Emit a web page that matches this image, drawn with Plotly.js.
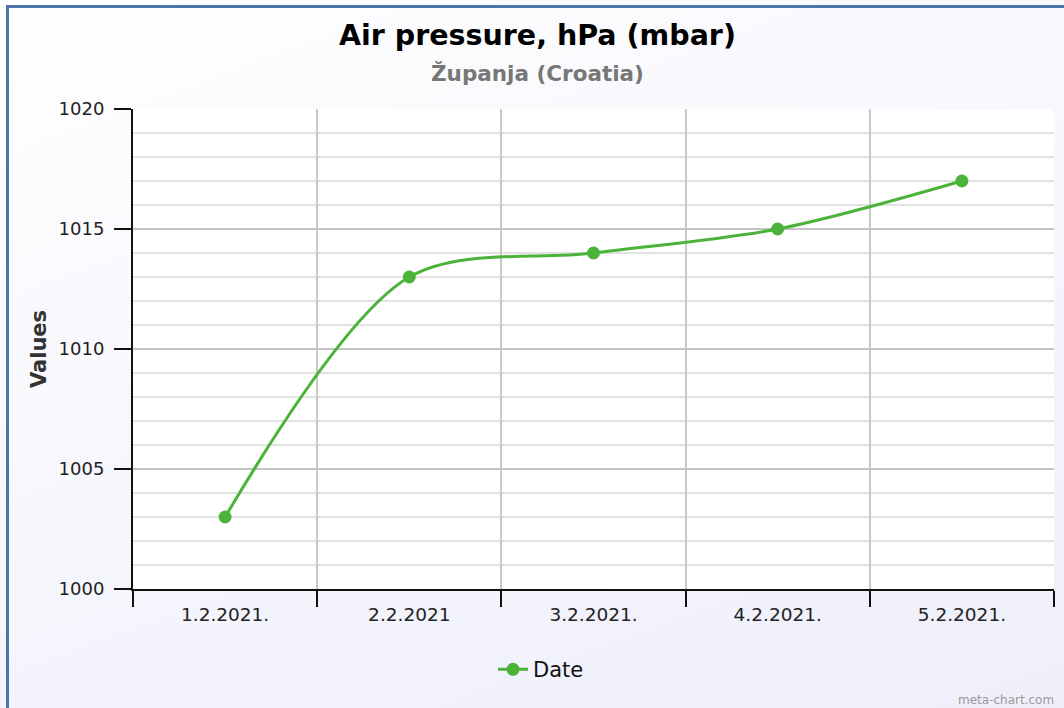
<!DOCTYPE html>
<html>
<head>
<meta charset="utf-8">
<script src="https://cdn.plot.ly/plotly-3.0.1.min.js"></script>
<style>
html,body{margin:0;padding:0;}
body{width:1064px;height:708px;overflow:hidden;background:linear-gradient(160deg,#ffffff 0%,#f6f6fd 50%,#efeffb 100%);position:relative;}
#frame{position:absolute;left:6px;top:5px;width:1100px;height:800px;border-left:3px solid #4a76a8;border-top:3px solid #4a76a8;box-sizing:border-box;pointer-events:none;}
#chart{position:absolute;left:0;top:0;width:1064px;height:708px;}
</style>
</head>
<body>
<div id="frame"></div>
<div id="chart"></div>
<script>
const categories = ["1.2.2021.", "2.2.2021", "3.2.2021.", "4.2.2021.", "5.2.2021."];
const values = [1003, 1013, 1014, 1015, 1017];
const seriesName = "Date";
const titleText = "Air pressure, hPa (mbar)";
const subtitleText = "Županja (Croatia)";
const yTitle = "Values";

const green = "#4cb33a";
const font = "DejaVu Sans, Verdana, sans-serif";

const trace = {
  type: "scatter",
  mode: "lines+markers",
  x: categories,
  y: values,
  name: seriesName,
  line: {color: green, width: 3, shape: "spline", smoothing: 0.9},
  marker: {color: green, size: 13, symbol: "circle"},
  cliponaxis: false
};

const layout = {
  width: 1064, height: 708,
  paper_bgcolor: "rgba(0,0,0,0)",
  plot_bgcolor: "#ffffff",
  margin: {l: 133, r: 10, t: 109, b: 119},
  font: {family: font, color: "#222", size: 18},
  showlegend: true,
  legend: {orientation: "h", x: 0.443, xanchor: "center", y: -0.168, yanchor: "middle",
           font: {size: 21, color: "#111", family: font}, bgcolor: "rgba(0,0,0,0)"},
  xaxis: {
    type: "category",
    range: [-0.5, 4.5],
    tickson: "boundaries",
    ticks: "outside", ticklen: 16, tickwidth: 2, tickcolor: "#111",
    showline: true, linecolor: "#111", linewidth: 2,
    showgrid: true, gridcolor: "#c8c8c8", gridwidth: 2,
    tickfont: {size: 18.5, color: "#222", family: font},
    ticklabelstandoff: 8,
    zeroline: false, fixedrange: true
  },
  yaxis: {
    range: [1000, 1020],
    dtick: 5, tick0: 1000,
    ticks: "outside", ticklen: 17, tickwidth: 2, tickcolor: "#111",
    showline: true, linecolor: "#111", linewidth: 2,
    showgrid: true, gridcolor: "#c4c4c4", gridwidth: 1.5,
    minor: {dtick: 1, showgrid: true, gridcolor: "#e2e2e2", gridwidth: 1.5, ticks: ""},
    tickfont: {size: 18, color: "#222", family: font},
    ticklabelstandoff: 6,
    zeroline: false, fixedrange: true,
    title: {text: yTitle, font: {size: 21, color: "#333", family: font, weight: "bold"}, standoff: 6}
  },
  annotations: [
    {text: "<b>" + titleText + "</b>", xref: "paper", yref: "paper", x: 0.4397, y: 1, yshift: 74,
     xanchor: "center", yanchor: "middle", showarrow: false, font: {size: 28.5, color: "#000", family: font}},
    {text: "<b>" + subtitleText + "</b>", xref: "paper", yref: "paper", x: 0.4397, y: 1, yshift: 36,
     xanchor: "center", yanchor: "middle", showarrow: false, font: {size: 21.5, color: "#777", family: font}},
    {text: "meta-chart.com", xref: "paper", yref: "paper", x: 1, y: 0, yshift: -111, xshift: 2,
     xanchor: "right", yanchor: "middle", showarrow: false, font: {size: 12, color: "#999", family: font}}
  ]
};

Plotly.newPlot("chart", [trace], layout, {displayModeBar: false, staticPlot: true});
</script>
</body>
</html>
